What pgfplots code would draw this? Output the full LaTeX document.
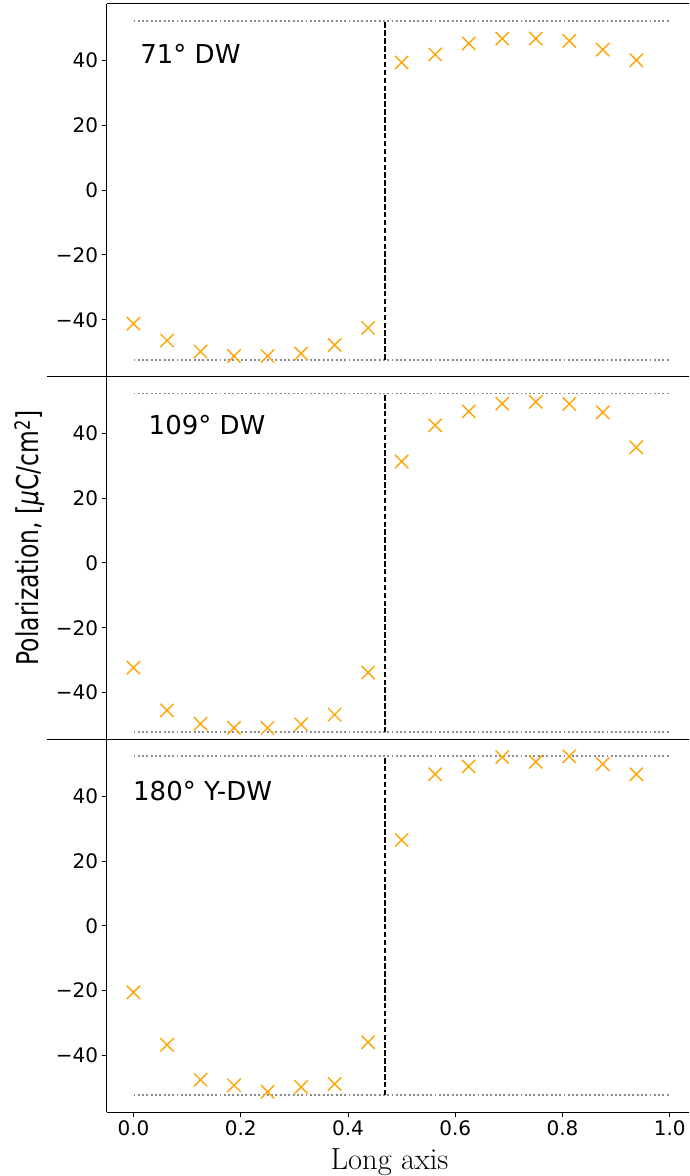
\documentclass[border=0pt]{standalone}
\usepackage{fontspec}
\usepackage{pgfplots}
\pgfplotsset{compat=1.18}
\newfontfamily\dejavu{DejaVu Sans}
\newfontfamily\ylabfont[FakeStretch=0.78]{DejaVu Sans}
\definecolor{mplorange}{HTML}{FFA500}
\definecolor{dotgray}{HTML}{8C8C8C}

\pgfplotsset{
 panel/.style={
  scale only axis, width=582.3pt, height=372.8pt,
  xmin=-0.05, xmax=1.0358, ymin=-57.53, ymax=57.53,
  axis x line*=box, axis y line*=left,
  axis line style={line width=1pt, -},
  tick align=outside, major tick length=5pt,
  tick style={line width=1pt, black},
  ytick={-40,-20,0,20,40},
  yticklabels={−40,−20,0,20,40},
  ticklabel style={font=\dejavu\fontsize{20}{23}\selectfont},
  axis background/.style={fill=white},
  xtick pos=bottom, ytick pos=left,
 },
 orangex/.style={only marks, mark=x, mark size=9.4pt, color=mplorange, mark options={line width=1.4pt}},
 dotline/.style={dotgray, line width=1.9pt, dash pattern=on 1.9pt off 2.4pt},
 dwline/.style={black, line width=1.8pt, dash pattern=on 5.5pt off 2.4pt},
}
\tikzset{lab/.style={anchor=base west, inner sep=0pt, font=\dejavu\fontsize{26}{30}\selectfont}}

\begin{document}
\begin{tikzpicture}[x=1pt,y=1pt]
% Panel 1: 71 deg DW
\begin{axis}[panel, at={(106.7pt,799.4pt)}, anchor=south west, xtick=\empty]
\addplot[dotline] coordinates {(0,52.3) (1,52.3)};
\addplot[dotline] coordinates {(0,-52.3) (1,-52.3)};
\addplot[dwline] coordinates {(0.46875,-52.3) (0.46875,52.3)};
\addplot[orangex] coordinates {
(0,-41.2) (0.0625,-46.4) (0.125,-49.8) (0.1875,-51.2) (0.25,-51.2) (0.3125,-50.4) (0.375,-47.8) (0.4375,-42.5)
(0.5,39.4) (0.5625,41.9) (0.625,45.3) (0.6875,46.8) (0.75,46.8) (0.8125,46.1) (0.875,43.4) (0.9375,40.1)};
\node[lab] at (axis cs:0.0125,39.2) {71° DW};
\end{axis}
% Panel 2: 109 deg DW
\begin{axis}[panel, at={(106.7pt,426.6pt)}, anchor=south west, xtick=\empty]
\addplot[dotline] coordinates {(0,52.3) (1,52.3)};
\addplot[dotline] coordinates {(0,-52.3) (1,-52.3)};
\addplot[dwline] coordinates {(0.46875,-52.3) (0.46875,52.3)};
\addplot[orangex] coordinates {
(0,-32.3) (0.0625,-45.5) (0.125,-49.6) (0.1875,-50.9) (0.25,-50.9) (0.3125,-49.8) (0.375,-46.8) (0.4375,-33.8)
(0.5,31.3) (0.5625,42.5) (0.625,46.8) (0.6875,49.2) (0.75,49.7) (0.8125,49.1) (0.875,46.5) (0.9375,35.7)};
\node[lab] at (axis cs:0.028,39.6) {109° DW};
\end{axis}
% Panel 3: 180 deg Y-DW
\begin{axis}[panel, at={(106.7pt,63.7pt)}, anchor=south west,
  xtick={0,0.2,0.4,0.6,0.8,1.0}, xticklabels={0.0,0.2,0.4,0.6,0.8,1.0}]
\addplot[dotline] coordinates {(0,52.3) (1,52.3)};
\addplot[dotline] coordinates {(0,-52.3) (1,-52.3)};
\addplot[dwline] coordinates {(0.46875,-52.3) (0.46875,52.3)};
\addplot[orangex] coordinates {
(0,-20.5) (0.0625,-36.7) (0.125,-47.5) (0.1875,-49.2) (0.25,-51.2) (0.3125,-49.7) (0.375,-48.8) (0.4375,-35.9)
(0.5,26.5) (0.5625,46.8) (0.625,49.2) (0.6875,52.1) (0.75,50.6) (0.8125,52.3) (0.875,49.9) (0.9375,46.8)};
\node[lab] at (axis cs:-0.001,38.7) {180° Y-DW};
\end{axis}
\draw[line width=1pt] (47,799.4) -- (106.7,799.4);
\draw[line width=1pt] (47,436.5) -- (106.7,436.5);
\node[rotate=90, anchor=base, font=\ylabfont\fontsize{30}{34}\selectfont] at (39,638) {Polarization, [\textit{µ}C/cm\textsuperscript{2}]};
\node[anchor=base, font=\fontsize{30.5}{34}\selectfont] at (389.5,6.5) {Long axis};
\pgfresetboundingbox
\path[use as bounding box] (0,0) rectangle (689,1176);
\end{tikzpicture}
\end{document}
